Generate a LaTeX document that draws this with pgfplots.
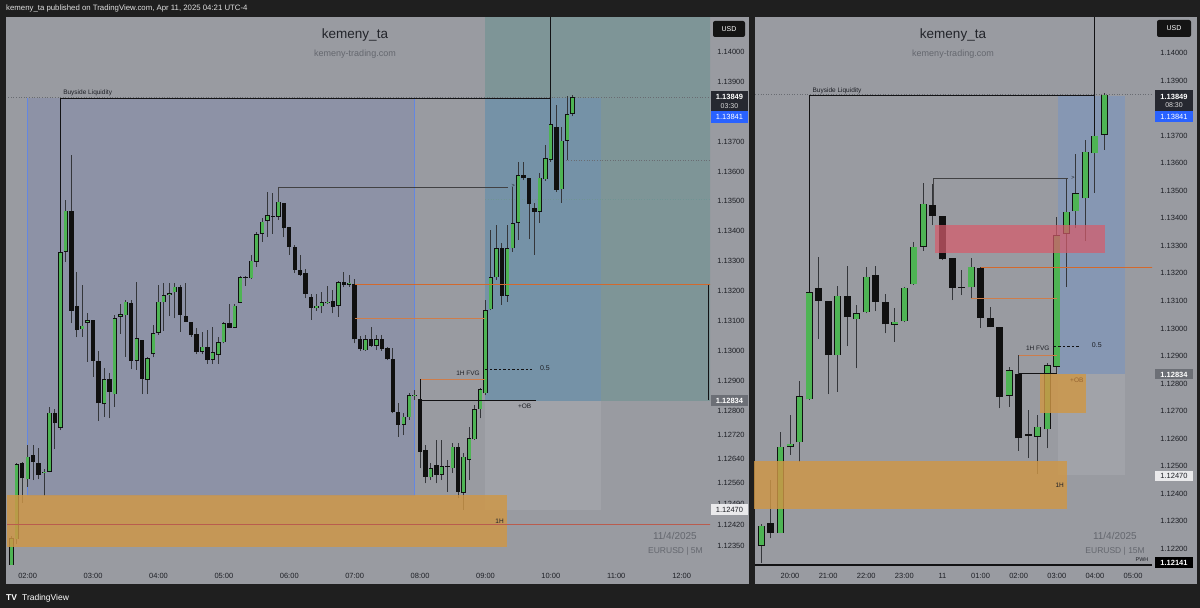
\documentclass[border=0pt]{standalone}
\usepackage{pgfplots}
\pgfplotsset{compat=1.18}
\usepackage{pgfplotstable}
\usepackage{fontspec}
\setmainfont{Liberation Sans}

\definecolor{bgdark}{RGB}{31,31,31}
\definecolor{panel}{RGB}{153,155,161}
\definecolor{txt}{RGB}{30,32,38}
\definecolor{up}{RGB}{78,180,84}
\definecolor{dn}{RGB}{16,16,16}
\definecolor{wick}{RGB}{52,54,58}
\definecolor{rangefill}{RGB}{141,146,166}
\definecolor{rangeedge}{RGB}{100,135,225}
\definecolor{tealbox}{RGB}{126,149,151}
\definecolor{tpblue}{RGB}{117,146,167}
\definecolor{tpblueR}{RGB}{134,151,179}
\definecolor{slgrey}{RGB}{161,163,169}
\definecolor{zoneor}{RGB}{207,151,70}
\definecolor{zonered}{RGB}{214,92,108}
\definecolor{orline}{RGB}{210,105,45}
\definecolor{orthin}{RGB}{205,125,75}
\definecolor{redline}{RGB}{185,92,78}
\definecolor{drawk}{RGB}{18,18,20}
\definecolor{dotg}{RGB}{105,108,114}
\definecolor{dott}{RGB}{112,148,148}
\definecolor{wm}{RGB}{34,36,42}
\definecolor{wmsub}{RGB}{100,103,110}
\definecolor{tvblue}{RGB}{41,98,255}
\definecolor{boxdark}{RGB}{38,40,48}
\definecolor{boxgrey}{RGB}{108,111,118}
\definecolor{boxwhite}{RGB}{234,234,236}
\definecolor{hdr}{RGB}{225,225,225}
\definecolor{obtxt}{RGB}{150,100,50}

% EURUSD 5M, index 0 = 02:00
\pgfplotstableread{
i o h l c
-3 1.12235 1.12382 1.12218 1.12375
-2 1.12371 1.12627 1.12355 1.12622
-1 1.12625 1.12629 1.12493 1.12575
0 1.12571 1.12686 1.12547 1.12647
1 1.12653 1.12686 1.12569 1.12630
2 1.12627 1.12677 1.12571 1.12586
3 1.12592 1.12606 1.12516 1.12597
4 1.12597 1.12814 1.12595 1.12794
5 1.12792 1.12805 1.12672 1.12759
6 1.12744 1.13354 1.12736 1.13330
7 1.13332 1.13505 1.13298 1.13469
8 1.13469 1.13655 1.13093 1.13135
9 1.13151 1.13263 1.13046 1.13070
10 1.13073 1.13221 1.13048 1.13085
11 1.13095 1.13126 1.12964 1.13104
12 1.13104 1.13104 1.12914 1.12968
13 1.12968 1.13001 1.12766 1.12825
14 1.12823 1.12942 1.12781 1.12906
15 1.12906 1.12926 1.12775 1.12864
16 1.12856 1.13120 1.12814 1.13109
17 1.13115 1.13157 1.13057 1.13124
18 1.13120 1.13171 1.12981 1.13165
19 1.13162 1.13171 1.12939 1.12968
20 1.12968 1.13230 1.12937 1.13043
21 1.13037 1.13037 1.12856 1.12906
22 1.12903 1.12981 1.12856 1.12976
23 1.12990 1.13087 1.12979 1.13059
24 1.13061 1.13221 1.13054 1.13165
25 1.13163 1.13226 1.13068 1.13187
26 1.13187 1.13226 1.13117 1.13194
27 1.13196 1.13226 1.13109 1.13215
28 1.13215 1.13221 1.13065 1.13121
29 1.13117 1.13226 1.13098 1.13098
30 1.13098 1.13098 1.13047 1.13053
31 1.13056 1.13076 1.12990 1.12996
32 1.12998 1.13065 1.12990 1.13014
33 1.13014 1.13070 1.12957 1.12970
34 1.12970 1.13079 1.12957 1.12996
35 1.12987 1.13048 1.12957 1.13029
36 1.13029 1.13098 1.13026 1.13093
37 1.13095 1.13157 1.13078 1.13078
38 1.13078 1.13157 1.13076 1.13151
39 1.13162 1.13251 1.13160 1.13246
40 1.13246 1.13251 1.13218 1.13245
41 1.13243 1.13321 1.13240 1.13302
42 1.13298 1.13399 1.13282 1.13391
43 1.13391 1.13443 1.13365 1.13432
44 1.13435 1.13530 1.13382 1.13454
45 1.13451 1.13527 1.13391 1.13447
46 1.13449 1.13547 1.13438 1.13499
47 1.13494 1.13494 1.13380 1.13410
48 1.13413 1.13413 1.13321 1.13347
49 1.13347 1.13354 1.13260 1.13271
50 1.13271 1.13321 1.13251 1.13254
51 1.13260 1.13273 1.13176 1.13191
52 1.13180 1.13191 1.13104 1.13145
53 1.13143 1.13191 1.13135 1.13151
54 1.13150 1.13198 1.13126 1.13163
55 1.13159 1.13218 1.13157 1.13165
56 1.13167 1.13204 1.13126 1.13148
57 1.13151 1.13235 1.13115 1.13230
58 1.13230 1.13263 1.13213 1.13221
59 1.13221 1.13254 1.13215 1.13228
60 1.13224 1.13240 1.13026 1.13039
61 1.13039 1.13050 1.13001 1.13006
62 1.13003 1.13054 1.13001 1.13039
63 1.13039 1.13081 1.13014 1.13018
64 1.13017 1.13054 1.13003 1.13039
65 1.13039 1.13054 1.13001 1.13006
66 1.13009 1.13014 1.12970 1.12972
67 1.12974 1.13009 1.12792 1.12795
68 1.12797 1.12825 1.12714 1.12753
69 1.12753 1.12792 1.12719 1.12781
70 1.12779 1.12859 1.12770 1.12853
71 1.12850 1.12870 1.12836 1.12853
72 1.12839 1.12906 1.12608 1.12664
73 1.12669 1.12686 1.12558 1.12580
74 1.12578 1.12625 1.12569 1.12608
75 1.12619 1.12703 1.12558 1.12586
76 1.12586 1.12703 1.12569 1.12616
77 1.12616 1.12636 1.12530 1.12614
78 1.12608 1.12692 1.12592 1.12680
79 1.12680 1.12692 1.12508 1.12530
80 1.12527 1.12658 1.12469 1.12647
81 1.12636 1.12747 1.12569 1.12709
82 1.12705 1.12820 1.12703 1.12805
83 1.12805 1.12876 1.12775 1.12872
84 1.12859 1.13171 1.12853 1.13137
85 1.13139 1.13404 1.13137 1.13246
86 1.13246 1.13421 1.13237 1.13343
87 1.13343 1.13360 1.13154 1.13184
88 1.13184 1.13421 1.13165 1.13343
89 1.13343 1.13549 1.13332 1.13427
90 1.13429 1.13633 1.13371 1.13588
91 1.13588 1.13633 1.13571 1.13577
92 1.13577 1.13577 1.13373 1.13491
93 1.13477 1.13494 1.13321 1.13466
94 1.13466 1.13594 1.13427 1.13579
95 1.13574 1.13688 1.13569 1.13644
96 1.13638 1.13779 1.13632 1.13758
97 1.13749 1.13822 1.13532 1.13538
98 1.13540 1.13749 1.13496 1.13703
99 1.13703 1.13852 1.13638 1.13791
100 1.13792 1.13855 1.13785 1.13849
}\leftdata

% EURUSD 15M, index 0 = 20:00
\pgfplotstableread{
i o h l c
-3 1.12212 1.12290 1.12150 1.12284
-2 1.12295 1.12450 1.12238 1.12259
-1 1.12257 1.12625 1.12257 1.12571
0 1.12571 1.12686 1.12541 1.12582
1 1.12587 1.12810 1.12516 1.12755
2 1.12743 1.13150 1.12740 1.13131
3 1.13148 1.13260 1.12961 1.13100
4 1.13101 1.13101 1.12762 1.12903
5 1.12903 1.13154 1.12771 1.13119
6 1.13118 1.13228 1.12936 1.13041
7 1.13034 1.13084 1.12855 1.13055
8 1.13059 1.13224 1.13055 1.13188
9 1.13193 1.13227 1.13063 1.13097
10 1.13097 1.13125 1.12982 1.13015
11 1.13013 1.13075 1.12952 1.13025
12 1.13026 1.13152 1.13023 1.13148
13 1.13161 1.13313 1.13158 1.13297
14 1.13297 1.13529 1.13282 1.13452
15 1.13449 1.13524 1.13375 1.13409
16 1.13408 1.13408 1.13248 1.13251
17 1.13257 1.13257 1.13103 1.13148
18 1.13148 1.13212 1.13121 1.13147
19 1.13149 1.13257 1.13109 1.13224
20 1.13218 1.13224 1.13001 1.13039
21 1.13037 1.13079 1.13004 1.13004
22 1.13006 1.13006 1.12710 1.12752
23 1.12755 1.12861 1.12716 1.12849
24 1.12835 1.12904 1.12556 1.12601
25 1.12617 1.12704 1.12529 1.12611
26 1.12607 1.12686 1.12471 1.12644
27 1.12634 1.12876 1.12565 1.12867
28 1.12861 1.13403 1.12837 1.13339
29 1.13343 1.13545 1.13152 1.13424
30 1.13426 1.13633 1.13364 1.13491
31 1.13472 1.13684 1.13319 1.13641
32 1.13636 1.13709 1.13493 1.13700
33 1.13702 1.13853 1.13648 1.13849
}\rightdata

% #1 table, #2 body width, #3 inner width, #4 wick width, #5 inset
\newcommand{\candles}[5]{%
  \addplot[draw=none, mark=none, forget plot,
    error bars/.cd, y dir=plus, y explicit, error mark=none,
    error bar style={line width=#4, draw=wick}]
    table[x=i, y=l, y error expr=\thisrow{h}-\thisrow{l}] {#1};
  \addplot[draw=none, mark=none, forget plot,
    restrict expr to domain={\thisrow{o}-\thisrow{c}}{0:1},
    error bars/.cd, y dir=plus, y explicit, error mark=none,
    error bar style={line width=#2, draw=dn}]
    table[x=i, y=c, y error expr={max(\thisrow{o}-\thisrow{c},0.00002)}] {#1};
  \addplot[draw=none, mark=none, forget plot,
    restrict expr to domain={\thisrow{c}-\thisrow{o}}{0.000001:1},
    error bars/.cd, y dir=plus, y explicit, error mark=none,
    error bar style={line width=#2, draw=dn}]
    table[x=i, y=o, y error expr=\thisrow{c}-\thisrow{o}] {#1};
  \addplot[draw=none, mark=none, forget plot,
    restrict expr to domain={\thisrow{c}-\thisrow{o}}{0.000001:1},
    error bars/.cd, y dir=plus, y explicit, error mark=none,
    error bar style={line width=#3, draw=up}]
    table[x=i, y expr=\thisrow{o}+#5, y error expr={max(\thisrow{c}-\thisrow{o}-2*#5,0.000005)}] {#1};
}

\pgfplotsset{
  tvaxis/.style={
    scale only axis, anchor=south west, height=547pt,
    axis line style={draw=none}, tick style={draw=none}, major tick length=0pt,
    scaled y ticks=false, scaled x ticks=false,
    /pgf/number format/assume math mode=true,
    xticklabel style={font=\fontsize{7.5}{8}\selectfont, text=txt, anchor=center, yshift=-11pt},
    yticklabel pos=right,
    yticklabel style={font=\fontsize{7.5}{8}\selectfont, text=txt, anchor=center},
    clip=true,
  },
}
\tikzset{lbl/.style={font=\fontsize{6.5}{7}\selectfont, text=txt, inner sep=0.5pt}}

\begin{document}
\begin{tikzpicture}
\begin{scope}[x=1pt,y=1pt]
\fill[bgdark] (0,0) rectangle (1200,608);
\fill[panel] (6,24) rectangle (749,591);
\fill[panel] (755,24) rectangle (1197,591);
\end{scope}

% ---------------- left panel (5M) ----------------
\begin{axis}[tvaxis, at={(7pt,43pt)}, width=703pt,
  xmin=-3.8, xmax=125.2, ymin=1.122852, ymax=1.141126,
  xtick={0,12,...,120},
  xticklabels={02:00,03:00,04:00,05:00,06:00,07:00,08:00,09:00,10:00,11:00,12:00},
  ytick={1.1235,1.1242,1.1249,1.1256,1.1264,1.1272,1.128,1.129,1.13,1.131,1.132,1.133,1.134,1.135,1.136,1.137,1.139,1.14},
  yticklabels={1.12350,1.12420,1.12490,1.12560,1.12640,1.12720,1.12800,1.12900,1.13000,1.13100,1.13200,1.13300,1.13400,1.13500,1.13600,1.13700,1.13900,1.14000},
  yticklabel style={xshift=21pt}]
\fill[rangefill] (0,1.12519) rectangle (71,1.13845);
\draw[rangeedge, line width=0.7pt] (0,1.13845) -- (0,1.12519) -- (71,1.12519) -- (71,1.13845);
\fill[tealbox] (84,1.12834) rectangle (130,1.1415);
\fill[tpblue] (84,1.12834) rectangle (105.2,1.13845);
\fill[slgrey] (84,1.12470) rectangle (105.2,1.12834);
\draw[dotg, dotted, line width=0.6pt] (-5,1.13849) -- (130,1.13849);
\draw[dotg, dotted, line width=0.6pt] (98.75,1.13638) -- (130,1.13638);
\draw[dott, dotted, line width=0.6pt] (84,1.13507) -- (130,1.13507);
\candles{\leftdata}{4.4pt}{3pt}{1pt}{0.00002}
\fill[zoneor, fill opacity=0.82] (-10,1.12346) rectangle (87.9,1.12518);
\draw[redline, line width=0.8pt] (-10,1.12420) -- (130,1.12420);
% drawings
\draw[drawk, line width=1.1pt] (6,1.13330) -- (6,1.13845) -- (96,1.13845);
\draw[drawk, line width=0.9pt] (96,1.1415) -- (96,1.13758);
\draw[drawk!80!white, line width=0.8pt] (46,1.13499) -- (46,1.13547) -- (88.1,1.13547);
\node[lbl, font=\fontsize{5.5}{6}\selectfont] at (89.1,1.13552) {>};
\draw[orline, line width=1pt] (60,1.13221) -- (130,1.13221);
\draw[orthin, line width=0.7pt] (60,1.13110) -- (84,1.13110);
\draw[orthin, line width=0.8pt] (72,1.12906) -- (84,1.12906);
\draw[drawk, line width=1.1pt] (72,1.12906) -- (72,1.12836) -- (93.3,1.12836);
\draw[drawk, line width=0.6pt, dash pattern=on 2.5pt off 2pt] (84,1.12940) -- (92.5,1.12940);
\draw[drawk, line width=1.4pt] (124.95,1.13221) -- (124.95,1.12838);
\node[lbl, anchor=base west] at (6.4,1.13858) {Buyside Liquidity};
\node[lbl] at (80.8,1.12927) {1H FVG};
\node[lbl, font=\fontsize{7}{8}\selectfont] at (94.9,1.12942) {0.5};
\node[lbl] at (91.2,1.12816) {+OB};
\node[lbl] at (86.6,1.12432) {1H};
\end{axis}

% ---------------- right panel (15M) ----------------
\begin{axis}[tvaxis, at={(754pt,43pt)}, width=398pt,
  xmin=-3.78, xmax=37.99, ymin=1.121416, ymax=1.141267,
  xtick={0,4,...,36},
  xticklabels={20:00,21:00,22:00,23:00,11,01:00,02:00,03:00,04:00,05:00},
  ytick={1.122,1.123,1.124,1.125,1.126,1.127,1.128,1.129,1.13,1.131,1.132,1.133,1.134,1.135,1.136,1.137,1.139,1.14},
  yticklabels={1.12200,1.12300,1.12400,1.12500,1.12600,1.12700,1.12800,1.12900,1.13000,1.13100,1.13200,1.13300,1.13400,1.13500,1.13600,1.13700,1.13900,1.14000},
  yticklabel style={xshift=22pt}]
\fill[tpblueR] (28.1,1.12834) rectangle (35.2,1.13845);
\fill[slgrey] (28.1,1.12470) rectangle (35.2,1.12834);
\draw[dotg, dotted, line width=0.6pt] (-5,1.13849) -- (40,1.13849);
\candles{\rightdata}{7pt}{5.4pt}{1pt}{0.00002}
\fill[zoneor, fill opacity=0.82] (-5,1.12346) rectangle (29.1,1.12518);
\fill[zoneor, fill opacity=0.82] (26.2,1.12693) rectangle (31.1,1.12834);
\fill[zonered, fill opacity=0.72] (15.2,1.13274) rectangle (33.1,1.13375);
% drawings
\draw[drawk, line width=1.1pt] (2,1.13131) -- (2,1.13845) -- (32,1.13845);
\draw[drawk, line width=0.9pt] (32,1.1415) -- (32,1.13700);
\draw[drawk!80!white, line width=0.8pt] (15,1.13449) -- (15,1.13545) -- (29.2,1.13545);
\node[lbl, font=\fontsize{5.5}{6}\selectfont] at (29.7,1.13548) {>};
\draw[orline, line width=1pt] (20,1.13221) -- (40,1.13221);
\draw[orthin, line width=0.8pt] (19,1.13110) -- (28,1.13110);
\draw[orthin, line width=0.8pt] (24,1.12904) -- (28,1.12904);
\draw[drawk, line width=1.1pt] (24,1.12835) -- (28,1.12835);
\draw[drawk, line width=0.6pt, dash pattern=on 2.5pt off 2pt] (27.7,1.12936) -- (30.4,1.12936);
\node[lbl, anchor=base west] at (2.3,1.13856) {Buyside Liquidity};
\node[lbl] at (26.0,1.12929) {1H FVG};
\node[lbl, font=\fontsize{7}{8}\selectfont] at (32.2,1.12938) {0.5};
\node[lbl, text=obtxt] at (30.1,1.12813) {+OB};
\node[lbl] at (28.3,1.12432) {1H};
\end{axis}

\begin{scope}[x=1pt,y=1pt]
% header and footer
\node[anchor=west, text=hdr, font=\fontsize{7.8}{9}\selectfont, inner sep=0] at (6,599.5) {kemeny\_ta published on TradingView.com, Apr 11, 2025 04:21 UTC-4};
\node[anchor=west, text=white, font=\fontsize{8.5}{9}\selectfont\bfseries, inner sep=0] at (6,10) {TV};
\node[anchor=west, text=white, font=\fontsize{8.5}{9}\selectfont, inner sep=0] at (22,10) {TradingView};
% watermarks
\node[text=wm, font=\fontsize{13.5}{14}\selectfont] at (355,573) {kemeny\_ta};
\node[text=wmsub, font=\fontsize{9}{10}\selectfont] at (355,554) {kemeny-trading.com};
\node[text=wm, font=\fontsize{13.5}{14}\selectfont] at (953,573) {kemeny\_ta};
\node[text=wmsub, font=\fontsize{9}{10}\selectfont] at (953,554) {kemeny-trading.com};
\node[anchor=east, text=wmsub, font=\fontsize{10}{11}\selectfont, inner sep=0] at (697,72) {11/4/2025};
\node[anchor=east, text=wmsub, font=\fontsize{8.5}{10}\selectfont, inner sep=0] at (703,57) {EURUSD | 5M};
\node[anchor=east, text=wmsub, font=\fontsize{10}{11}\selectfont, inner sep=0] at (1137,72) {11/4/2025};
\node[anchor=east, text=wmsub, font=\fontsize{8.5}{10}\selectfont, inner sep=0] at (1145,57) {EURUSD | 15M};
% left price boxes
\fill[black!92, rounded corners=2pt] (713,571) rectangle (745,587);
\node[text=white, font=\fontsize{7}{8}\selectfont] at (729,579) {USD};
\fill[boxdark] (711,497) rectangle (748,517);
\node[text=white, font=\fontsize{7.5}{8}\selectfont\bfseries] at (729.5,511) {1.13849};
\node[text=white!85!black, font=\fontsize{7}{8}\selectfont] at (729.5,502) {03:30};
\fill[tvblue] (711,485) rectangle (748,497);
\node[text=white, font=\fontsize{7.5}{8}\selectfont] at (729.5,491) {1.13841};
\fill[boxgrey] (711,202) rectangle (748,213);
\node[text=white, font=\fontsize{7.5}{8}\selectfont\bfseries] at (729.5,207.5) {1.12834};
\fill[boxwhite] (711,93) rectangle (748,104);
\node[text=txt, font=\fontsize{7.5}{8}\selectfont] at (729.5,98.5) {1.12470};
% right price boxes
\fill[black!92, rounded corners=2pt] (1157,571) rectangle (1191,588);
\node[text=white, font=\fontsize{7}{8}\selectfont] at (1174,579.5) {USD};
\fill[boxdark] (1155,497) rectangle (1193,518);
\node[text=white, font=\fontsize{7.5}{8}\selectfont\bfseries] at (1174,511.5) {1.13849};
\node[text=white!85!black, font=\fontsize{7}{8}\selectfont] at (1174,502.5) {08:30};
\fill[tvblue] (1155,486) rectangle (1193,497);
\node[text=white, font=\fontsize{7.5}{8}\selectfont] at (1174,491.5) {1.13841};
\fill[boxgrey] (1155,228.5) rectangle (1193,238.5);
\node[text=white, font=\fontsize{7.5}{8}\selectfont\bfseries] at (1174,233.5) {1.12834};
\fill[boxwhite] (1155,126.5) rectangle (1193,137);
\node[text=txt, font=\fontsize{7.5}{8}\selectfont] at (1174,131.7) {1.12470};
\fill[black] (1155,40) rectangle (1193,51);
\node[text=white, font=\fontsize{7.5}{8}\selectfont\bfseries] at (1174,45.5) {1.12141};
\draw[drawk, line width=1.6pt] (755,43) -- (1152,43);
\node[text=txt, font=\fontsize{5.5}{6}\selectfont, inner sep=0] at (1142,48.5) {PWH};
\end{scope}
\end{tikzpicture}
\end{document}
